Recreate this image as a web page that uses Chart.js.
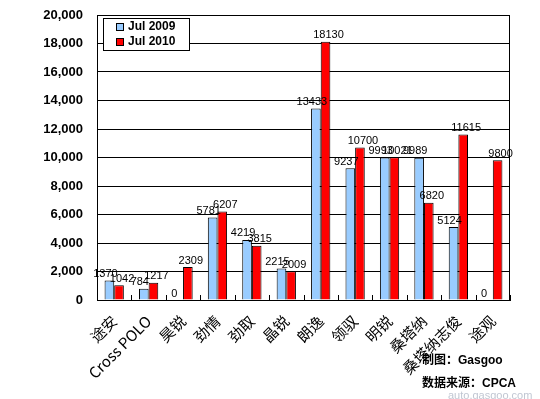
<!DOCTYPE html>
<html>
<head>
<meta charset="utf-8">
<script src="https://cdn.jsdelivr.net/npm/chart.js@4.4.0/dist/chart.umd.min.js"></script>
<style>
  html, body { margin: 0; padding: 0; background: #fff; }
  #wrap { width: 540px; height: 399px; position: relative; }
</style>
</head>
<body>
<div id="wrap"><canvas id="c" width="540" height="399"></canvas></div>
<script>
const categories = ['途安', 'Cross POLO', '昊锐', '劲情', '劲取', '晶锐', '朗逸', '领驭', '明锐', '桑塔纳', '桑塔纳志俊', '途观'];
const jul2009 = [1370, 784, 0, 5781, 4219, 2215, 13433, 9237, 9993, 9989, 5124, 0];
const jul2010 = [1042, 1217, 2309, 6207, 3815, 2009, 18130, 10700, 10021, 6820, 11615, 9800];
const seriesNames = ['Jul 2009', 'Jul 2010'];
const yTicks = [0, 2000, 4000, 6000, 8000, 10000, 12000, 14000, 16000, 18000, 20000];

const fmt = v => v.toString().replace(/\B(?=(\d{3})+(?!\d))/g, ',');

// 数值标签 + 刻度 + 图例 + 来源
const extras = {
  id: 'extras',
  afterDatasetsDraw(chart) {
    const ctx = chart.ctx;
    const area = chart.chartArea;
    const x = chart.scales.x;
    ctx.save();

    // 类别分隔刻度（向内）
    ctx.strokeStyle = '#000';
    ctx.lineWidth = 1;
    for (let i = 0; i <= categories.length; i++) {
      const px = Math.round(x.getPixelForValue(i - 0.5)) + 0.5;
      ctx.beginPath();
      ctx.moveTo(px, area.bottom);
      ctx.lineTo(px, area.bottom - 5);
      ctx.stroke();
    }

    // 数据标签
    ctx.font = '11px "Liberation Sans", Arial, sans-serif';
    ctx.fillStyle = '#000';
    ctx.textAlign = 'center';
    ctx.textBaseline = 'bottom';
    chart.data.datasets.forEach((ds, di) => {
      chart.getDatasetMeta(di).data.forEach((bar, i) => {
        const off = di === 0 ? -4 : 3;
        ctx.fillText(ds.data[i], bar.x + off, bar.y - 1);
      });
    });

    // 图例
    const lx = area.left + 6, ly = area.top + 3;
    ctx.fillStyle = '#fff';
    ctx.fillRect(lx, ly, 86, 32);
    ctx.strokeRect(lx + 0.5, ly + 0.5, 86, 32);
    ctx.font = 'bold 12px "Liberation Sans", Arial, sans-serif';
    ctx.textAlign = 'left';
    ctx.textBaseline = 'middle';
    const cols = ['#99ccff', '#ff0000'];
    seriesNames.forEach((n, k) => {
      const yy = ly + 9 + k * 15;
      ctx.fillStyle = cols[k];
      ctx.fillRect(lx + 13, yy - 4, 8, 8);
      ctx.strokeStyle = '#000';
      ctx.strokeRect(lx + 13.5, yy - 3.5, 7, 7);
      ctx.fillStyle = '#000';
      ctx.fillText(n, lx + 25, yy);
    });

    // 来源
    ctx.font = 'bold 12px "Liberation Sans", "Noto Sans CJK SC", sans-serif';
    ctx.fillText('制图：Gasgoo', 422, 361);
    ctx.fillText('数据来源：CPCA', 422, 384);
    ctx.fillStyle = 'rgba(150,160,180,0.6)';
    ctx.font = '11px "Liberation Sans", sans-serif';
    ctx.fillText('auto.gasgoo.com', 448, 396);
    ctx.restore();
  }
};

new Chart(document.getElementById('c'), {
  type: 'bar',
  data: {
    labels: categories,
    datasets: [
      { label: seriesNames[0], data: jul2009, backgroundColor: '#99ccff', borderColor: '#000', borderWidth: 1, categoryPercentage: 0.56, barPercentage: 1 },
      { label: seriesNames[1], data: jul2010, backgroundColor: '#ff0000', borderColor: '#000', borderWidth: 1, categoryPercentage: 0.56, barPercentage: 1 }
    ]
  },
  options: {
    responsive: false,
    animation: false,
    layout: { padding: { top: 15, right: 30, left: 0, bottom: 0 } },
    plugins: { legend: { display: false }, tooltip: { enabled: false } },
    scales: {
      x: {
        grid: { display: false },
        border: { color: '#000' },
        ticks: {
          color: '#000',
          minRotation: 45, maxRotation: 45,
          autoSkip: false,
          padding: 4,
          font: { size: 15, family: '"Noto Sans CJK SC", "Liberation Sans", sans-serif' }
        },
        afterFit: s => { s.height = 99; }
      },
      y: {
        min: 0, max: 20000,
        afterBuildTicks: s => { s.ticks = yTicks.map(v => ({ value: v })); },
        grid: { color: '#000', drawTicks: true, tickLength: 10, tickColor: 'rgba(0,0,0,0)' },
        border: { color: '#000' },
        ticks: {
          color: '#000',
          padding: 4,
          callback: v => fmt(v),
          font: { size: 13, weight: 'bold', family: '"Liberation Sans", Arial, sans-serif' }
        },
        afterFit: s => { s.width = 97; }
      }
    }
  },
  plugins: [extras, {
    id: 'frame',
    afterDraw(chart) {
      const a = chart.chartArea, ctx = chart.ctx;
      ctx.save();
      ctx.strokeStyle = '#000';
      ctx.strokeRect(Math.round(a.left) + 0.5, Math.round(a.top) + 0.5, Math.round(a.right - a.left) - 1, Math.round(a.bottom - a.top));
      ctx.restore();
    }
  }]
});
</script>
</body>
</html>
